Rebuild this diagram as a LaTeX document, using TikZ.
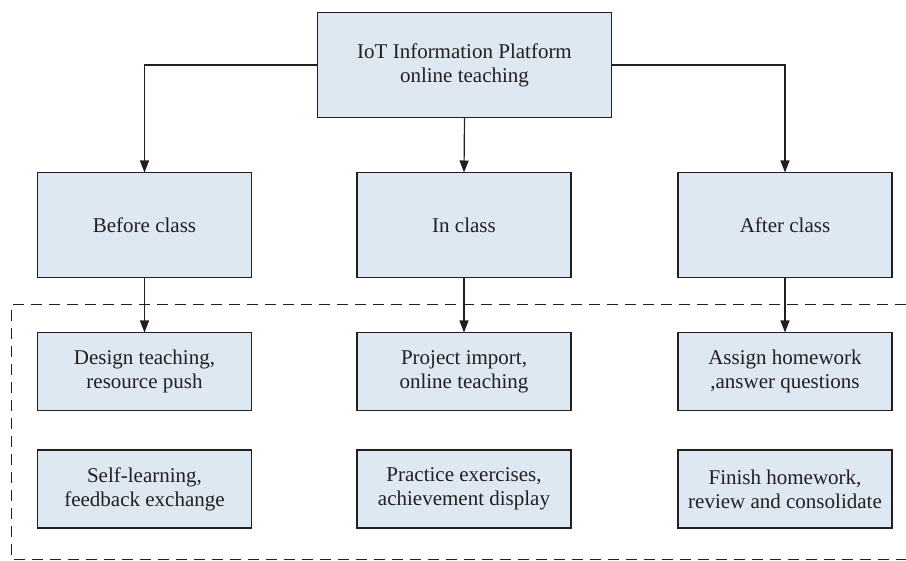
\documentclass[tikz,border=0pt]{standalone}
\usepackage{fontspec}
\setmainfont{Liberation Serif}
\usetikzlibrary{arrows.meta}
\definecolor{boxfill}{RGB}{221,232,243}
\definecolor{ink}{RGB}{35,31,32}
\tikzset{
  box/.style={draw=ink, line width=1.3pt, fill=boxfill, text=ink, align=center,
    font=\fontsize{21}{24}\selectfont, inner sep=0pt, outer sep=0pt},
  bigbox/.style={box, minimum width=214pt, minimum height=105pt},
  smallbox/.style={box, minimum width=214pt, minimum height=78pt},
  arr/.style={draw=ink, line width=1.2pt, -{Triangle[length=12pt,width=9pt]}},
  dashbox/.style={draw=ink, line width=1pt, dash pattern=on 11pt off 7pt}
}
\begin{document}
\begin{tikzpicture}[x=1pt,y=-1pt]
\useasboundingbox (0,0) rectangle (906,561);
\node[box, minimum width=294pt, minimum height=105pt] (top) at (464.5,65) {IoT Information Platform\\online teaching};
\node[bigbox] (before) at (144.5,225) {Before class};
\node[bigbox] (in) at (464,225) {In class};
\node[bigbox] (after) at (785,225) {After class};
\node[smallbox] (b1) at (144.5,371.5) {Design teaching,\\resource push};
\node[smallbox] (i1) at (464,371.5) {Project import,\\online teaching};
\node[smallbox] (a1) at (785,371.5) {Assign homework\\,answer questions};
\node[smallbox] (b2) at (144.5,489) {Self-learning,\\feedback exchange};
\node[smallbox] (i2) at (464,489) {Practice exercises,\\achievement display};
\node[smallbox] (a2) at (785,489) {Finish homework,\\review and consolidate};
\coordinate (dtr) at (906,305);
\coordinate (dtl) at (11,305);
\coordinate (dbl) at (11,559.5);
\coordinate (dbr) at (906,559.5);
\draw[dashbox] (dtr) -- (dtl) -- (dbl) -- (dbr);
\draw[arr] (top.west) -| (before.north);
\draw[arr] (top.east) -| (after.north);
\draw[arr] (top.south) -- (in.north);
\draw[arr] (before.south) -- (b1.north);
\draw[arr] (in.south) -- (i1.north);
\draw[arr] (after.south) -- (a1.north);
\end{tikzpicture}
\end{document}
